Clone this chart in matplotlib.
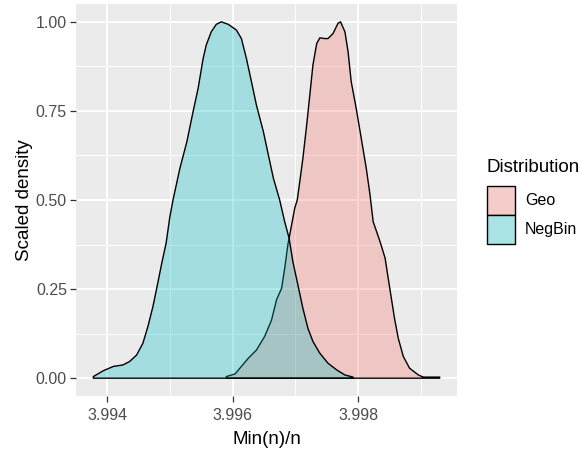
import matplotlib
matplotlib.use("Agg")
import matplotlib.pyplot as plt
from matplotlib.patches import Patch
from matplotlib.ticker import FixedLocator
import numpy as np

plt.rcParams['font.family'] = ['Liberation Sans', 'DejaVu Sans']

# Scaled kernel density estimates of Min(n)/n for each distribution
distributions = ["Geo", "NegBin"]

geo_x = [3.99590, 3.99604, 3.99614, 3.99625, 3.99638, 3.99651, 3.99662, 3.99670,
         3.99678, 3.99683, 3.99688, 3.99694, 3.99699, 3.99703, 3.99707, 3.99712,
         3.99718, 3.99723, 3.99728, 3.99734, 3.99739, 3.99747, 3.99752, 3.99760,
         3.99768, 3.99772, 3.99779, 3.99784, 3.99789, 3.99797, 3.99805, 3.99813,
         3.99819, 3.99824, 3.99835, 3.99843, 3.99848, 3.99853, 3.99858, 3.99864,
         3.99872, 3.99882, 3.99896, 3.99904, 3.99930]
geo_y = [0.0045, 0.012, 0.033, 0.056, 0.079, 0.117, 0.163, 0.220,
         0.252, 0.308, 0.374, 0.430, 0.477, 0.500, 0.551, 0.617,
         0.710, 0.794, 0.879, 0.939, 0.955, 0.953, 0.953, 0.967,
         0.996, 1.000, 0.972, 0.916, 0.832, 0.757, 0.673, 0.589,
         0.514, 0.439, 0.383, 0.337, 0.280, 0.224, 0.168, 0.112,
         0.061, 0.028, 0.009, 0.003, 0.003]

negbin_x = [3.99378, 3.99394, 3.99410, 3.99425, 3.99436, 3.99447, 3.99457, 3.99465,
            3.99473, 3.99479, 3.99487, 3.99494, 3.99500, 3.99505, 3.99516, 3.99527,
            3.99537, 3.99545, 3.99553, 3.99558, 3.99566, 3.99574, 3.99582, 3.99593,
            3.99606, 3.99614, 3.99622, 3.99630, 3.99638, 3.99649, 3.99657, 3.99665,
            3.99675, 3.99683, 3.99690, 3.99696, 3.99704, 3.99712, 3.99720, 3.99728,
            3.99739, 3.99752, 3.99766, 3.99779, 3.99792]
negbin_y = [0.0045, 0.021, 0.033, 0.037, 0.047, 0.065, 0.098, 0.145,
            0.201, 0.252, 0.322, 0.379, 0.453, 0.500, 0.589, 0.663,
            0.748, 0.813, 0.897, 0.935, 0.972, 0.993, 1.000, 0.993,
            0.977, 0.953, 0.897, 0.832, 0.766, 0.692, 0.626, 0.561,
            0.500, 0.439, 0.393, 0.327, 0.262, 0.196, 0.140, 0.103,
            0.070, 0.042, 0.023, 0.009, 0.003]

x_ticks = [3.994, 3.996, 3.998]
x_ticklabels = ["3.994", "3.996", "3.998"]
y_ticks = [0.00, 0.25, 0.50, 0.75, 1.00]
y_ticklabels = ["0.00", "0.25", "0.50", "0.75", "1.00"]

palette = {"Geo": "#F8766D", "NegBin": "#00BFC4"}
fill_alpha = 0.3
panel_bg = "#EBEBEB"
key_bg = "#F2F2F2"

W, H = 581, 450
fig = plt.figure(figsize=(W / 100, H / 100), dpi=100)
ax = fig.add_axes([76 / W, 1 - 396 / H, (457 - 76) / W, (396 - 4) / H])
ax.set_facecolor(panel_bg)

series = {"Geo": (geo_x, geo_y), "NegBin": (negbin_x, negbin_y)}
for name in distributions:
    xs = np.asarray(series[name][0])
    ys = np.asarray(series[name][1])
    px = np.concatenate([[xs[0]], xs, [xs[-1]]])
    py = np.concatenate([[0.0], ys, [0.0]])
    ax.fill(px, py, facecolor=matplotlib.colors.to_rgba(palette[name], fill_alpha),
            edgecolor="black", linewidth=1.0, joinstyle="round", zorder=3)

xmin = min(min(geo_x), min(negbin_x))
xmax = max(max(geo_x), max(negbin_x))
pad = 0.05 * (xmax - xmin)
ax.set_xlim(xmin - pad, xmax + pad)
ax.set_ylim(-0.05, 1.05)

ax.xaxis.set_major_locator(FixedLocator(x_ticks))
ax.set_xticklabels(x_ticklabels)
ax.xaxis.set_minor_locator(FixedLocator([3.993, 3.995, 3.997, 3.999]))
ax.yaxis.set_major_locator(FixedLocator(y_ticks))
ax.set_yticklabels(y_ticklabels)
ax.yaxis.set_minor_locator(FixedLocator([0.125, 0.375, 0.625, 0.875]))

ax.grid(which="major", color="white", linewidth=1.4, zorder=0)
ax.grid(which="minor", color="white", linewidth=0.7, zorder=0)
ax.set_axisbelow(True)
for s in ax.spines.values():
    s.set_visible(False)

ax.tick_params(which="major", length=4, width=0.9, color="#333333",
               labelsize=11.5, labelcolor="#4D4D4D")
ax.tick_params(axis="x", which="major", pad=5)
ax.tick_params(axis="y", which="major", pad=2.5)
ax.tick_params(which="minor", length=0)

ax.set_xlabel("Min(n)/n", fontsize=13.5, color="black", labelpad=5.5)
ax.set_ylabel("Scaled density", fontsize=13.5, color="black", labelpad=2)

# Legend keys: translucent fill composited over the light key background
def over(color, alpha, bg):
    c = np.array(matplotlib.colors.to_rgb(color))
    b = np.array(matplotlib.colors.to_rgb(bg))
    return tuple(alpha * c + (1 - alpha) * b)

handles = [Patch(facecolor=over(palette[n], fill_alpha, key_bg), edgecolor="black",
                 linewidth=1.0, label=n) for n in distributions]
fig.text(487 / W, 1 - 167 / H, "Distribution", fontsize=13.5, color="black",
         ha="left", va="center")
leg = fig.legend(handles=handles, loc="upper left",
                 bbox_to_anchor=(487 / W, 1 - 185.5 / H), frameon=False,
                 fontsize=11.5, handlelength=1.75, handleheight=2.42,
                 labelspacing=0.0, handletextpad=0.63, borderpad=0.0,
                 borderaxespad=0.0)

fig.savefig("out.png", dpi=100)
